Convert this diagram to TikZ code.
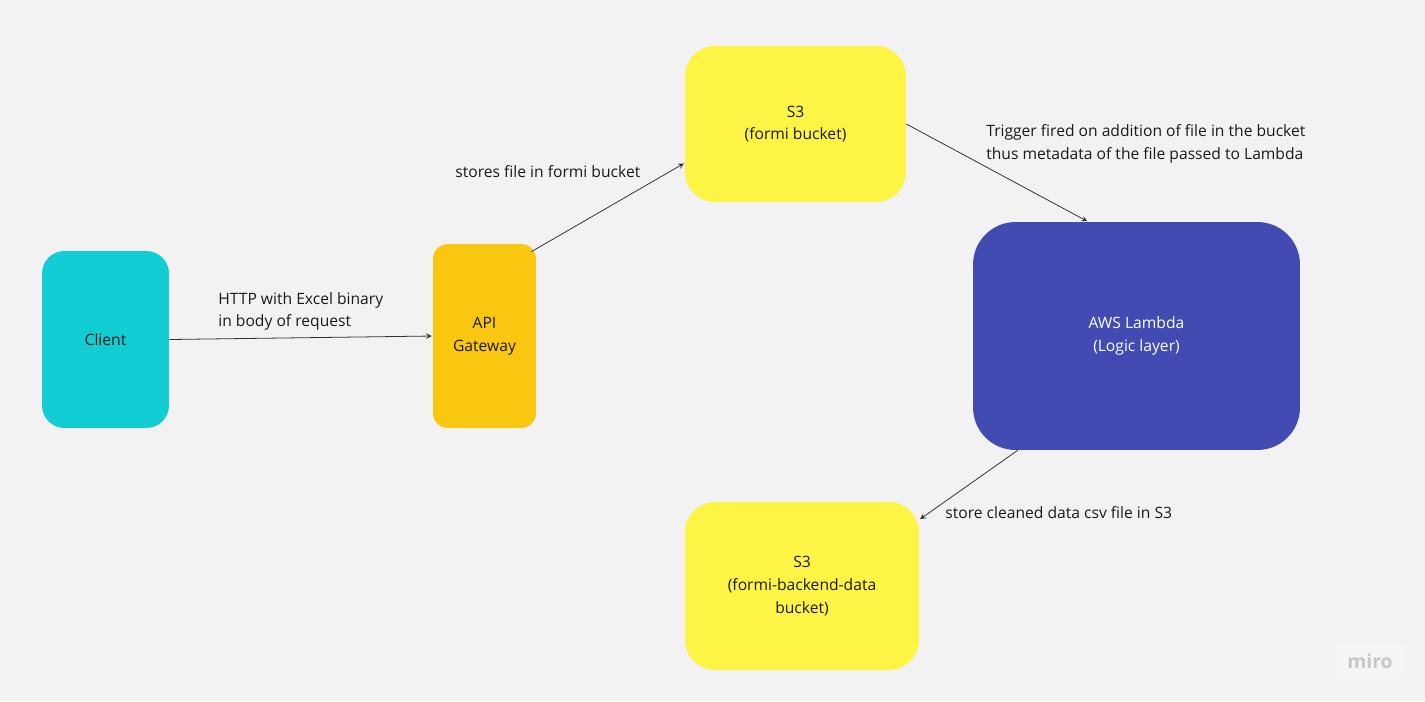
\documentclass[tikz,border=0pt]{standalone}
\usepackage{fontspec}
\setmainfont{Open Sans}
\usetikzlibrary{positioning,arrows}
\tikzstyle{box} = [rounded corners=0.45cm, inner sep=0pt, align=center, text=textgray, font=\fontsize{8.9}{13}\selectfont]
\tikzstyle{lbl} = [inner sep=0pt, align=left, text=textgray, font=\fontsize{8.9}{13}\selectfont]
\tikzstyle{link} = [-stealth, draw=linegray, line width=0.45pt, shorten >=0.5pt]

\begin{document}
\begin{tikzpicture}[x=0.02cm, y=-0.02cm]
\definecolor{bggray}{HTML}{F2F2F2}
\definecolor{textgray}{HTML}{1A1A1A}
\definecolor{linegray}{HTML}{333333}
\definecolor{clientcyan}{HTML}{12CDD4}
\definecolor{apiyellow}{HTML}{FAC710}
\definecolor{s3yellow}{HTML}{FEF445}
\definecolor{lambdablue}{HTML}{414BB2}

\fill[bggray] (0,0) rectangle (1425,701);
\useasboundingbox (0,0) rectangle (1425,701);

% boxes
\node[box, fill=clientcyan, minimum width=2.54cm, minimum height=3.54cm] (client) at (105.5,339.5) {Client};
\node[box, fill=apiyellow, rounded corners=0.3cm, minimum width=2.06cm, minimum height=3.68cm] (api) at (484.5,336) {API\\Gateway};
\node[box, fill=s3yellow, rounded corners=0.6cm, minimum width=4.42cm, minimum height=3.12cm] (s3) at (795.5,124) {S3\\(formi bucket)};
\node[box, fill=lambdablue, text=white, rounded corners=0.85cm, minimum width=6.54cm, minimum height=4.56cm] (lambda) at (1136.5,336) {AWS Lambda\\(Logic layer)};
\node[box, fill=s3yellow, rounded corners=0.6cm, minimum width=4.68cm, minimum height=3.36cm] (s3data) at (802,586) {S3\\(formi-backend-data\\bucket)};

% connectors
\draw[link] (client.east) -- (api.west);
\draw[link] ([xshift=-0.1cm,yshift=-0.16cm]api.north east) -- ([yshift=-0.78cm]s3.west);
\draw[link] (s3.east) -- ([xshift=-0.97cm]lambda.north);
\draw[link] ([xshift=0.9cm]lambda.south west) -- ([yshift=-0.36cm]s3data.north east);

% labels
\node[lbl, anchor=west] (httplbl) at (218,311.5) {HTTP with Excel binary\\in body of request};
\node[lbl, anchor=west] (storelbl) at (455,172) {stores file in formi bucket};
\node[lbl, anchor=west] (triggerlbl) at (986,144) {Trigger fired on addition of file in the bucket\\thus metadata of the file passed to Lambda};
\node[lbl, anchor=west] (cleanlbl) at (945,513) {store cleaned data csv file in S3};

% watermark
\node[fill=white!25!bggray, rounded corners=2pt, minimum width=1.36cm, minimum height=0.74cm, text=black!22, font=\fontsize{11}{11}\selectfont\bfseries] (miro) at (1370,661) {miro};
\end{tikzpicture}
\end{document}
